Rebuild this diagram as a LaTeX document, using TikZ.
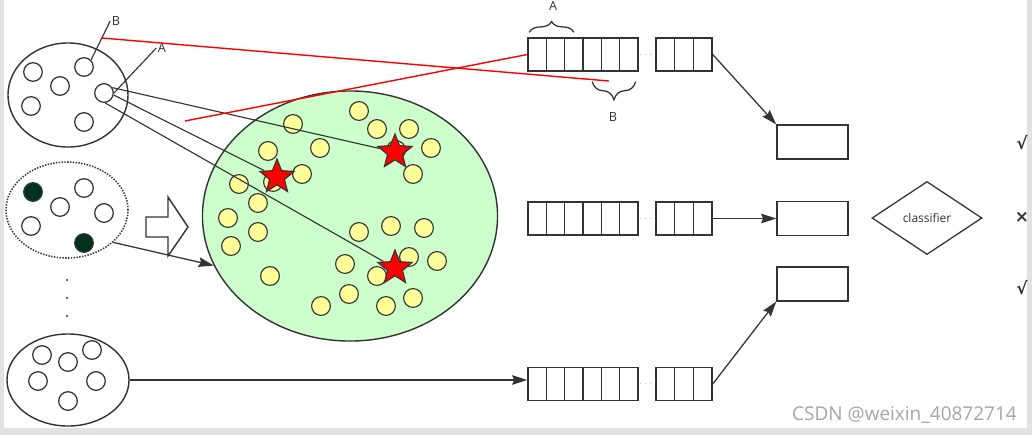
\documentclass[tikz,border=0pt]{standalone}
\usepackage{fontspec}
\setmainfont{Open Sans}
\newfontfamily\symfont{DejaVu Sans}
\usepackage{tikz}
\usetikzlibrary{shapes.geometric, arrows.meta, decorations.pathreplacing}
\definecolor{linegray}{RGB}{51,51,51}
\definecolor{lightgreen}{RGB}{204,255,204}
\definecolor{paleyellow}{RGB}{255,255,153}
\definecolor{darkgreen}{RGB}{0,51,25}
\definecolor{framegray}{RGB}{226,226,226}
\definecolor{markgray}{RGB}{165,165,165}
\definecolor{dotblue}{RGB}{30,50,110}

\begin{document}
\begin{tikzpicture}[
  x=0.025cm, y=-0.025cm,
  set/.style={ellipse, draw=linegray, line width=1pt, inner sep=0pt},
  elem/.style={circle, draw=linegray, fill=white, line width=0.9pt,
               minimum size=0.465cm, inner sep=0pt},
  dark/.style={elem, fill=darkgreen},
  seed/.style={circle, draw=linegray, fill=paleyellow, line width=0.8pt,
               minimum size=0.47cm, inner sep=0pt},
  centre/.style={star, star points=5, star point ratio=2.3, draw=linegray,
                 fill=red, line width=0.8pt, minimum size=0.9cm, inner sep=0pt},
  cell/.style={rectangle, draw=linegray, line width=1pt, minimum height=0.825cm, inner sep=0pt},
  outbox/.style={rectangle, draw=linegray, line width=1pt,
                 minimum width=1.775cm, minimum height=0.84cm, inner sep=0pt},
  lbl/.style={font=\fontsize{9}{9}\selectfont, text=linegray, inner sep=1pt},
  verdict/.style={font=\symfont\bfseries\fontsize{12}{12}\selectfont, text=linegray, inner sep=0pt},
  arr/.style={-{Stealth[length=3.8mm, width=2.4mm, inset=0.5mm]}, line width=0.9pt, linegray},
  link/.style={line width=0.8pt, linegray},
  redline/.style={line width=1pt, red},
]
\useasboundingbox (0,0) rectangle (1032,435);
\fill[framegray] (0,0) rectangle (1032,435);
\fill[white] (4,0) rectangle (1027,428);

% sets on the left
\node[set, minimum width=3cm, minimum height=2.6cm] (setA) at (68,95) {};
\foreach \x/\y [count=\k] in {33/72, 60/86, 31/106, 84/122}
  \node[elem] (a\k) at (\x,\y) {};
\node[elem] (sB) at (84,67) {};
\node[elem] (sA) at (104,93) {};

\node[set, densely dotted, line width=1.1pt, minimum width=3.05cm, minimum height=2.4cm] (setM) at (67,210) {};
\node[dark] (m1) at (33,192) {};
\node[dark] (m2) at (84,243) {};
\foreach \x/\y [count=\k from 3] in {60/207, 84/188, 104/213, 31/226}
  \node[elem] (m\k) at (\x,\y) {};

\foreach \y [count=\k] in {280,298,316}
  \node[circle, fill=dotblue, minimum size=0.06cm, inner sep=0pt] (vd\k) at (67,\y) {};

\node[set, minimum width=3.05cm, minimum height=2.3cm] (setC) at (68,380) {};
\foreach \x/\y [count=\k] in {42/355, 68/362, 92/350, 38/381, 96/381, 68/401}
  \node[elem] (c\k) at (\x,\y) {};

% hollow arrow
\draw[linegray, line width=1pt, fill=white]
  (146,217) -- (168,217) -- (168,197) -- (188,227) -- (168,256) -- (168,237) -- (146,237) -- cycle;

% clustering ellipse
\node[set, fill=lightgreen, minimum width=7.375cm, minimum height=6.25cm] (green) at (350,216) {};
\foreach \x/\y [count=\k] in {359/111, 293/124, 377/129, 409/129, 268/151, 320/148, 431/148,
    302/174, 413/174, 273/182, 396/150, 239/184, 258/203, 228/218, 258/232, 231/246, 359/232,
    391/226, 424/228, 345/264, 409/257, 437/261, 270/276, 377/276, 349/294, 413/298,
    321/306, 386/306}
  \node[seed] (g\k) at (\x,\y) {};
\node[centre] (stL) at (277,177) {};
\node[centre] (stT) at (395,152) {};
\node[centre] (stB) at (395,268) {};

% queues
\foreach \row/\y in {t/54.5, m/218.5, b/384} {
  \foreach \i in {1,...,6}
    \node[cell, minimum width=0.458cm] (q\row\i) at ({528+18.33*(\i-0.5)},\y) {};
  \foreach \i in {7,8,9}
    \node[cell, minimum width=0.467cm] (q\row\i) at ({656+18.67*(\i-6.5)},\y) {};
  \node[font=\fontsize{5.5}{5.5}\selectfont\bfseries, text=dotblue, inner sep=0pt] (qd\row) at (646,\y) {$\cdots$};
}

% outputs
\node[outbox] (box1) at (812.5,142) {};
\node[outbox] (box2) at (812.5,218.5) {};
\node[outbox] (box3) at (812.5,284) {};
\node[diamond, draw=linegray, line width=0.9pt, minimum width=2.75cm, minimum height=1.825cm,
      inner sep=0pt, font=\fontsize{8.5}{9}\selectfont, text=linegray] (cls) at (927,218) {classifier};
\node[verdict] (v1) at (1022,143) {√};
\node[verdict] (v2) at (1022,217) {×};
\node[verdict] (v3) at (1022,288) {√};

% labels and braces
\node[lbl] (lblB) at (116,21) {B};
\node[lbl] (lblA) at (162,48) {A};
\node[lbl] (brA) at (553,6) {A};
\node[lbl] (brB) at (613,117) {B};
\draw[link] (lblB.west) -- (sB.north east);
\draw[link] (lblA.west) -- (sA.east);
\draw[linegray, line width=0.9pt, decorate, decoration={brace, amplitude=0.27cm}]
  ([xshift=0.05cm, yshift=0.125cm]qt1.north west) -- ([yshift=0.125cm]qt3.north);
\draw[linegray, line width=0.9pt, decorate, decoration={brace, amplitude=0.45cm}]
  ([xshift=-0.075cm, yshift=-0.25cm]qt6.south east) -- ([yshift=-0.25cm]qt4.south);

% links to the centres
\draw[link] (sA.33) -- (stT);
\draw[link] (sA.-12) -- (stL);
\draw[link] (sA.-84) -- (stB);

% red windows
\coordinate (rs1) at (102,38);
\coordinate (re1) at (609,81);
\coordinate (rs2) at (185,121);
\draw[redline] (rs1) -- (re1);
\draw[redline] (rs2) -- (qt1.west);

% arrows
\draw[arr] (setM.-35) -- (green.200);
\draw[arr] (setC.east) -- (setC.east -| qb1.west);
\draw[arr] (qt9.east) -- (box1.north west);
\draw[arr] (qm9.east) -- (box2.west);
\draw[arr] (qb9.east) -- (box3.south west);

\node[font=\fontsize{13.5}{14}\selectfont, text=markgray, anchor=east, inner sep=0pt] (wm) at (1017,415) {CSDN @weixin\_40872714};
\end{tikzpicture}
\end{document}
